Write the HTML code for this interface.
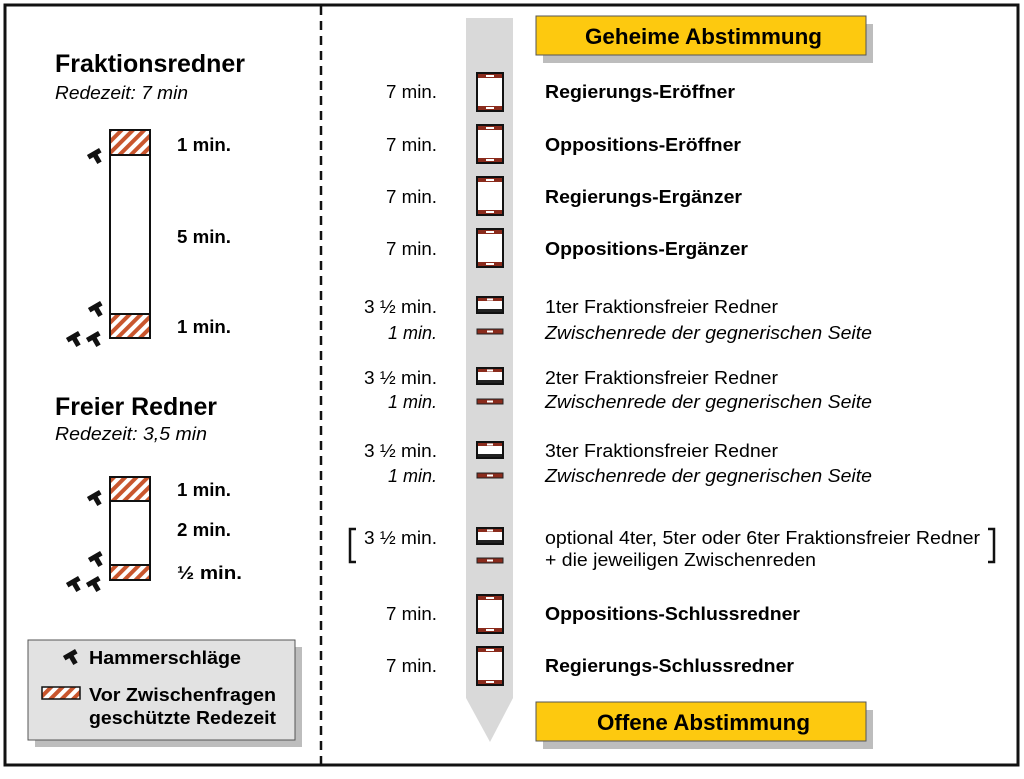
<!DOCTYPE html>
<html><head><meta charset="utf-8"><style>
body{margin:0;background:#fff}
svg text{font-family:"Liberation Sans",Arial,sans-serif}
</style></head><body>
<svg width="1024" height="774" viewBox="0 0 1024 774" xmlns="http://www.w3.org/2000/svg">
<defs>
<pattern id="h" width="8" height="8" patternUnits="userSpaceOnUse" patternTransform="rotate(45)">
<rect width="8" height="8" fill="#fff"/><rect width="4" height="8" fill="#c9562e"/></pattern>
<g id="ham"><g transform="rotate(-30)"><rect x="-7" y="-4" width="14" height="5" fill="#111"/><rect x="-2.5" y="0" width="5" height="9" fill="#111"/></g></g>
<g id="big"><rect x="0" y="0" width="26" height="38" fill="#fff" stroke="#111" stroke-width="2"/><rect x="1" y="1" width="24" height="4" fill="#8a2b1c"/><rect x="9" y="2" width="8" height="2" fill="#fff"/><rect x="1" y="33" width="24" height="4" fill="#8a2b1c"/><rect x="9" y="34" width="8" height="2" fill="#fff"/></g>
<g id="sm"><rect x="0" y="0" width="26" height="16" fill="#fff" stroke="#111" stroke-width="2"/><rect x="1" y="1" width="24" height="3" fill="#8a2b1c"/><rect x="10" y="1.5" width="6" height="2" fill="#fff"/><rect x="1" y="12" width="24" height="3" fill="#222"/></g>
<g id="th"><rect x="0" y="0" width="26" height="5" fill="#8a2b1c" stroke="#222" stroke-width="1"/><rect x="10" y="1.5" width="6" height="2" fill="#fff"/></g>
</defs>
<rect x="5" y="5" width="1013" height="760" fill="#fff" stroke="#111" stroke-width="3"/>
<line x1="321" y1="6" x2="321" y2="764" stroke="#111" stroke-width="2.5" stroke-dasharray="9,6"/>

<!-- left -->
<text x="55" y="72" font-size="25" font-weight="bold" textLength="190" lengthAdjust="spacingAndGlyphs">Fraktionsredner</text>
<text x="55" y="99" font-size="18" font-style="italic" textLength="133" lengthAdjust="spacingAndGlyphs">Redezeit: 7 min</text>
<rect x="110" y="130" width="40" height="208" fill="#fff" stroke="#111" stroke-width="2"/>
<rect x="111" y="131" width="38" height="24" fill="url(#h)"/><line x1="110" y1="155" x2="150" y2="155" stroke="#111" stroke-width="2"/>
<rect x="111" y="314" width="38" height="23" fill="url(#h)"/><line x1="110" y1="314" x2="150" y2="314" stroke="#111" stroke-width="2"/>
<g font-size="18" font-weight="bold">
<text x="177" y="151" textLength="54" lengthAdjust="spacingAndGlyphs">1 min.</text>
<text x="177" y="243" textLength="54" lengthAdjust="spacingAndGlyphs">5 min.</text>
<text x="177" y="333" textLength="54" lengthAdjust="spacingAndGlyphs">1 min.</text>
</g>
<use href="#ham" x="95" y="155"/><use href="#ham" x="96" y="308"/><use href="#ham" x="74" y="338"/><use href="#ham" x="94" y="338"/>

<text x="55" y="415" font-size="25" font-weight="bold" textLength="162" lengthAdjust="spacingAndGlyphs">Freier Redner</text>
<text x="55" y="440" font-size="18" font-style="italic" textLength="152" lengthAdjust="spacingAndGlyphs">Redezeit: 3,5 min</text>
<rect x="110" y="477" width="40" height="103" fill="#fff" stroke="#111" stroke-width="2"/>
<rect x="111" y="478" width="38" height="23" fill="url(#h)"/><line x1="110" y1="501" x2="150" y2="501" stroke="#111" stroke-width="2"/>
<rect x="111" y="566" width="38" height="13" fill="url(#h)"/><line x1="110" y1="565" x2="150" y2="565" stroke="#111" stroke-width="2"/>
<g font-size="18" font-weight="bold">
<text x="177" y="496" textLength="54" lengthAdjust="spacingAndGlyphs">1 min.</text>
<text x="177" y="536" textLength="54" lengthAdjust="spacingAndGlyphs">2 min.</text>
<text x="177" y="579" textLength="65" lengthAdjust="spacingAndGlyphs">½  min.</text>
</g>
<use href="#ham" x="95" y="497"/><use href="#ham" x="96" y="558"/><use href="#ham" x="74" y="583"/><use href="#ham" x="94" y="583"/>

<rect x="35" y="647" width="267" height="100" fill="#bdbdbd"/>
<rect x="28" y="640" width="267" height="100" fill="#e2e2e2" stroke="#555" stroke-width="1"/>
<use href="#ham" x="71" y="656"/>
<g font-size="18" font-weight="bold">
<text x="89" y="664" textLength="152" lengthAdjust="spacingAndGlyphs">Hammerschläge</text>
<text x="89" y="701" textLength="187" lengthAdjust="spacingAndGlyphs">Vor Zwischenfragen</text>
<text x="89" y="724" textLength="187" lengthAdjust="spacingAndGlyphs">geschützte Redezeit</text>
</g>
<rect x="42" y="687" width="38" height="12" fill="url(#h)" stroke="#111" stroke-width="1.5"/>

<!-- arrow -->
<polygon points="466,18 513,18 513,698 490,742 466,698" fill="#d9d9d9"/>

<rect x="543" y="24" width="330" height="39" fill="#bdbdbd"/>
<rect x="536" y="16" width="330" height="39" fill="#fdc90f" stroke="#555" stroke-width="1"/>
<text x="585" y="44" font-size="22" font-weight="bold" textLength="237" lengthAdjust="spacingAndGlyphs">Geheime Abstimmung</text>
<rect x="543" y="710" width="330" height="39" fill="#bdbdbd"/>
<rect x="536" y="702" width="330" height="39" fill="#fdc90f" stroke="#555" stroke-width="1"/>
<text x="597" y="730" font-size="22" font-weight="bold" textLength="213" lengthAdjust="spacingAndGlyphs">Offene Abstimmung</text>

<g font-size="18.5">
<text x="386" y="98" textLength="51" lengthAdjust="spacingAndGlyphs">7 min.</text>
<text x="386" y="151" textLength="51" lengthAdjust="spacingAndGlyphs">7 min.</text>
<text x="386" y="203" textLength="51" lengthAdjust="spacingAndGlyphs">7 min.</text>
<text x="386" y="255" textLength="51" lengthAdjust="spacingAndGlyphs">7 min.</text>
<text x="364" y="313" textLength="73" lengthAdjust="spacingAndGlyphs">3 ½ min.</text>
<text x="388" y="339" font-style="italic" textLength="49" lengthAdjust="spacingAndGlyphs">1 min.</text>
<text x="364" y="384" textLength="73" lengthAdjust="spacingAndGlyphs">3 ½ min.</text>
<text x="388" y="408" font-style="italic" textLength="49" lengthAdjust="spacingAndGlyphs">1 min.</text>
<text x="364" y="457" textLength="73" lengthAdjust="spacingAndGlyphs">3 ½ min.</text>
<text x="388" y="482" font-style="italic" textLength="49" lengthAdjust="spacingAndGlyphs">1 min.</text>
<text x="364" y="544" textLength="73" lengthAdjust="spacingAndGlyphs">3 ½ min.</text>
<text x="386" y="620" textLength="51" lengthAdjust="spacingAndGlyphs">7 min.</text>
<text x="386" y="672" textLength="51" lengthAdjust="spacingAndGlyphs">7 min.</text>
</g>
<path d="M356,529 h-6 v33 h6" fill="none" stroke="#111" stroke-width="2.5"/>
<path d="M988,529 h6 v33 h-6" fill="none" stroke="#111" stroke-width="2.5"/>

<use href="#big" x="477" y="73"/><use href="#big" x="477" y="125"/><use href="#big" x="477" y="177"/><use href="#big" x="477" y="229"/>
<use href="#sm" x="477" y="297"/><use href="#th" x="477" y="329"/>
<use href="#sm" x="477" y="368"/><use href="#th" x="477" y="399"/>
<use href="#sm" x="477" y="442"/><use href="#th" x="477" y="473"/>
<use href="#sm" x="477" y="528"/><use href="#th" x="477" y="558"/>
<use href="#big" x="477" y="595"/><use href="#big" x="477" y="647"/>

<g font-size="18.5">
<text x="545" y="98" font-weight="bold" textLength="190" lengthAdjust="spacingAndGlyphs">Regierungs-Eröffner</text>
<text x="545" y="151" font-weight="bold" textLength="196" lengthAdjust="spacingAndGlyphs">Oppositions-Eröffner</text>
<text x="545" y="203" font-weight="bold" textLength="197" lengthAdjust="spacingAndGlyphs">Regierungs-Ergänzer</text>
<text x="545" y="255" font-weight="bold" textLength="203" lengthAdjust="spacingAndGlyphs">Oppositions-Ergänzer</text>
<text x="545" y="313" textLength="233" lengthAdjust="spacingAndGlyphs">1ter Fraktionsfreier Redner</text>
<text x="545" y="339" font-style="italic" textLength="327" lengthAdjust="spacingAndGlyphs">Zwischenrede der gegnerischen Seite</text>
<text x="545" y="384" textLength="233" lengthAdjust="spacingAndGlyphs">2ter Fraktionsfreier Redner</text>
<text x="545" y="408" font-style="italic" textLength="327" lengthAdjust="spacingAndGlyphs">Zwischenrede der gegnerischen Seite</text>
<text x="545" y="457" textLength="233" lengthAdjust="spacingAndGlyphs">3ter Fraktionsfreier Redner</text>
<text x="545" y="482" font-style="italic" textLength="327" lengthAdjust="spacingAndGlyphs">Zwischenrede der gegnerischen Seite</text>
<text x="545" y="544" textLength="435" lengthAdjust="spacingAndGlyphs">optional 4ter, 5ter oder 6ter Fraktionsfreier Redner</text>
<text x="545" y="566" textLength="271" lengthAdjust="spacingAndGlyphs">+ die jeweiligen Zwischenreden</text>
<text x="545" y="620" font-weight="bold" textLength="255" lengthAdjust="spacingAndGlyphs">Oppositions-Schlussredner</text>
<text x="545" y="672" font-weight="bold" textLength="249" lengthAdjust="spacingAndGlyphs">Regierungs-Schlussredner</text>
</g>
</svg>
</body></html>
